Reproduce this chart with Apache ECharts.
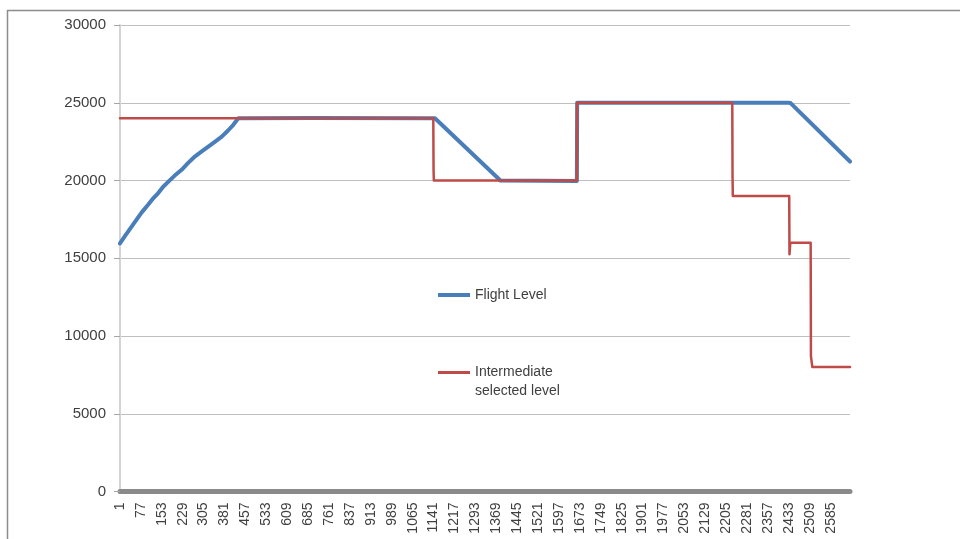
<!DOCTYPE html>
<html>
<head>
<meta charset="utf-8">
<script src="https://cdn.jsdelivr.net/npm/echarts@6/dist/echarts.min.js"></script>
<style>html,body{margin:0;padding:0;background:#fff;}#chart{width:960px;height:539px;}</style>
</head>
<body>
<div id="chart"></div>
<script>
// Sample numbers (Excel row index) and values
var flightSamples = [1, 20, 40, 56, 80, 103, 119, 140, 158, 177, 199, 225, 248, 273, 297, 322, 347, 371, 393, 413, 431, 697, 1146, 1384, 1662, 1663, 2430, 2439, 2655];
var flightLevel   = [15950, 16450, 16950, 17360, 17950, 18440, 18800, 19190, 19600, 19930, 20300, 20690, 21120, 21540, 21850, 22180, 22500, 22820, 23200, 23580, 24000, 24020, 24000, 20000, 19970, 25000, 25000, 24980, 21220];

var selSamples = [1, 1140, 1141, 1142, 1662, 1663, 2227, 2228, 2229, 2434, 2435, 2438, 2512, 2513, 2518, 2655];
var selLevel   = [24000, 24000, 20700, 20000, 20000, 25000, 25000, 20200, 19000, 19000, 15250, 16000, 16000, 8700, 8000, 8000];

var seriesNames = ['Flight Level', 'Intermediate selected level'];
var yTicks = [0, 5000, 10000, 15000, 20000, 25000, 30000];
var lastSample = 2655;
var sampleStep = 76;

function toPairs(samples, values) {
  return samples.map(function (s, i) { return [s - 1, values[i]]; });
}

var chart = echarts.init(document.getElementById('chart'), null, {renderer: 'canvas'});
var font = 'Liberation Sans, Arial, sans-serif';
chart.setOption({
  animation: false,
  backgroundColor: '#ffffff',
  graphic: [{
    type: 'rect', silent: true, z: -10,
    shape: {x: 7.5, y: 10.5, width: 1000, height: 1000},
    style: {fill: 'none', stroke: '#8c8c8c', lineWidth: 1.5}
  }],
  grid: {left: 120, right: 110, top: 25, bottom: 47.5, containLabel: false},
  legend: [{
    data: [seriesNames[0]],
    orient: 'vertical',
    left: 438, top: 288, padding: 0,
    icon: 'rect', itemWidth: 32, itemHeight: 4,
    textStyle: {fontFamily: font, fontSize: 14, color: '#404040'}
  }, {
    data: [seriesNames[1]],
    orient: 'vertical',
    left: 438, top: 344, padding: 0,
    icon: 'rect', itemWidth: 32, itemHeight: 3,
    formatter: function () { return '\nIntermediate\nselected level'; },
    textStyle: {fontFamily: font, fontSize: 14, color: '#404040', lineHeight: 19}
  }],
  xAxis: {
    type: 'value',
    min: 0, max: lastSample - 1, interval: sampleStep,
    offset: 3,
    axisLine: {show: true, lineStyle: {color: '#8a8a8a', width: 5}},
    axisTick: {show: false},
    splitLine: {show: false},
    axisLabel: {
      rotate: 90, margin: 8, showMaxLabel: false,
      fontFamily: font, fontSize: 14, color: '#404040',
      formatter: function (v) { return (v % sampleStep === 0) ? String(v + 1) : ''; }
    }
  },
  yAxis: {
    type: 'value',
    min: yTicks[0], max: yTicks[yTicks.length - 1], interval: yTicks[1] - yTicks[0],
    axisLine: {show: true, lineStyle: {color: '#d4d4d4', width: 2}},
    axisTick: {show: true, length: 6, lineStyle: {color: '#a6a6a6', width: 1}},
    splitLine: {show: true, lineStyle: {color: '#bfbfbf', width: 1}},
    axisLabel: {margin: 14, fontFamily: font, fontSize: 15, color: '#404040',
      formatter: function (v) { return String(v); }}
  },
  series: [{
    name: seriesNames[0],
    type: 'line',
    data: toPairs(flightSamples, flightLevel),
    showSymbol: false, symbol: 'none',
    color: '#4a7ebb',
    lineStyle: {color: '#4a7ebb', width: 4, cap: 'round', join: 'round'},
    z: 2
  }, {
    name: seriesNames[1],
    type: 'line',
    data: toPairs(selSamples, selLevel),
    showSymbol: false, symbol: 'none',
    color: '#be4b48',
    lineStyle: {color: '#be4b48', width: 2.5, cap: 'round', join: 'round'},
    z: 3
  }]
});
</script>
</body>
</html>
